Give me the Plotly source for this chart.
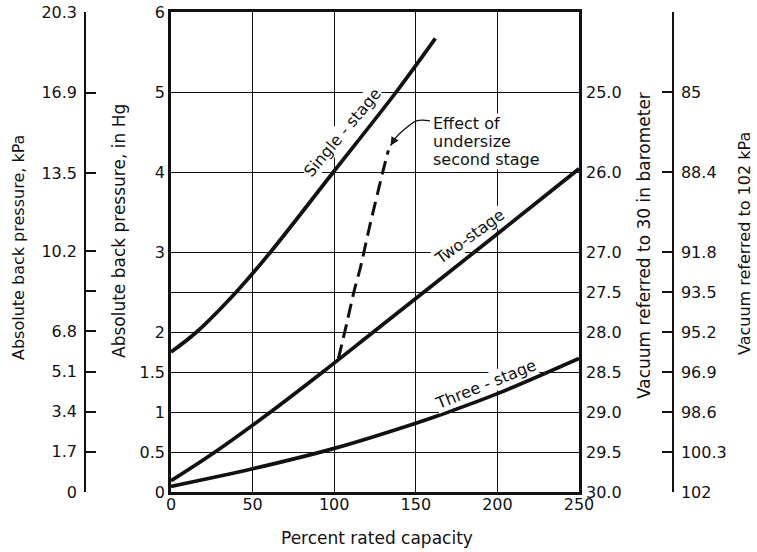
import plotly.graph_objects as go

# ---------------- data ----------------
single_x = [0, 15.7, 40, 61, 99.5, 138, 162]
single_y = [1.75, 2.0, 2.5, 3.0, 4.0, 5.0, 5.67]

two_x = [0, 27, 61, 93, 124, 155, 186, 250]
two_y = [0.14, 0.5, 1.0, 1.5, 2.0, 2.5, 3.0, 4.04]

three_x = [0, 50, 100, 150, 170, 200, 250]
three_y = [0.07, 0.29, 0.545, 0.86, 1.0, 1.23, 1.67]

undersize_x = [102.6, 107.6, 112.3, 116, 121.5, 130, 133.2]
undersize_y = [1.67, 2.1, 2.52, 2.8, 3.3, 4.02, 4.27]

arrow_x = [158.7, 150.6, 143.4, 137.3]
arrow_y = [4.64, 4.64, 4.54, 4.42]
arrow_tip = (134.6, 4.33)

x_ticks = [0, 50, 100, 150, 200, 250]
inhg_ticks = [0, 0.5, 1, 1.5, 2, 2.5, 3, 4, 5, 6]
inhg_labels = ["0", "0.5", "1", "1.5", "2", "", "3", "4", "5", "6"]
kpa_ticks = [0, 1.7, 3.4, 5.1, 6.8, 8.5, 10.2, 13.5, 16.9, 20.3]
kpa_labels = ["0", "1.7", "3.4", "5.1", "6.8", "", "10.2", "13.5", "16.9", "20.3"]
vac_in_ticks = [25, 26, 27, 27.5, 28, 28.5, 29, 29.5, 30]
vac_in_labels = ["25.0", "26.0", "27.0", "27.5", "28.0", "28.5", "29.0", "29.5", "30.0"]
vac_kpa_ticks = [81.6, 85, 88.4, 91.8, 93.5, 95.2, 96.9, 98.6, 100.3, 102]
vac_kpa_labels = ["", "85", "88.4", "91.8", "93.5", "95.2", "96.9", "98.6", "100.3", "102"]

# ---------------- layout helpers (page pixels) ----------------
W, H = 757, 552
OFF = 0                      # body margin removed by post_script
FW, FH = W - OFF, H - OFF    # figure size
ML, MR = 0, 0
PLOT_TOP, PLOT_BOT = 12, 492
MT = PLOT_TOP - OFF
MB = FH - (PLOT_BOT - OFF)
PW = FW - ML - MR
PH = PLOT_BOT - PLOT_TOP


def px_x(p):
    return (p - OFF - ML) / PW


def px_y(p):
    return (PLOT_BOT - p) / PH


FONT = "DejaVu Sans"
INK = "#111111"

fig = go.Figure()

line_style = dict(color=INK, width=3.7, shape="spline", smoothing=1.0)
for xs, ys in [(single_x, single_y), (two_x, two_y), (three_x, three_y)]:
    fig.add_trace(go.Scatter(x=xs, y=ys, mode="lines", line=line_style,
                             showlegend=False, hoverinfo="skip"))
fig.add_trace(go.Scatter(x=undersize_x, y=undersize_y, mode="lines",
                         line=dict(color=INK, width=3, dash="14px,7px", shape="spline", smoothing=0.8),
                         showlegend=False, hoverinfo="skip"))
fig.add_trace(go.Scatter(x=arrow_x + [arrow_tip[0]], y=arrow_y + [arrow_tip[1]], mode="lines",
                         line=dict(color=INK, width=1.3, shape="spline"),
                         showlegend=False, hoverinfo="skip"))

# invisible traces so the secondary axes are drawn
for ax_name, yv in [("y2", 0), ("y3", 30), ("y4", 102)]:
    fig.add_trace(go.Scatter(x=[0], y=[yv], yaxis=ax_name, mode="markers",
                             marker=dict(size=1, opacity=0), showlegend=False, hoverinfo="skip"))

tick_font = dict(family=FONT, size=16, color=INK)

fig.update_layout(
    width=FW, height=FH,
    margin=dict(l=ML, r=MR, t=MT, b=MB, pad=0),
    paper_bgcolor="white", plot_bgcolor="white",
    font=dict(family=FONT, size=16, color=INK),
    xaxis=dict(
        domain=[px_x(171), px_x(579)], range=[0, 250],
        tickvals=x_ticks, ticktext=[str(v) for v in x_ticks],
        showgrid=True, gridcolor=INK, gridwidth=1,
        showline=True, linecolor=INK, linewidth=2.5, mirror=True,
        zeroline=False, ticks="", tickfont=tick_font, automargin=False,
        ticklabelstandoff=-4, ticklabeloverflow="allow",
    ),
    yaxis=dict(
        range=[0, 6], tickvals=inhg_ticks, ticktext=inhg_labels,
        showgrid=True, gridcolor=INK, gridwidth=1,
        showline=True, linecolor=INK, linewidth=2.5, mirror=True,
        zeroline=False, ticks="", tickfont=tick_font, automargin=False,
        ticklabelstandoff=0, ticklabeloverflow="allow",
    ),
    yaxis2=dict(
        overlaying="y", anchor="free", position=px_x(85), side="left",
        range=[0, 20.32], tickvals=kpa_ticks, ticktext=kpa_labels,
        showgrid=False, zeroline=False,
        showline=True, linecolor=INK, linewidth=1.5,
        ticks="inside", ticklen=10, tickwidth=1.5, tickcolor=INK,
        tickfont=tick_font, automargin=False, ticklabelstandoff=4,
        ticklabeloverflow="allow",
    ),
    yaxis3=dict(
        overlaying="y", anchor="x", side="right",
        range=[30, 24], tickvals=vac_in_ticks, ticktext=vac_in_labels,
        showgrid=False, zeroline=False, showline=False, ticks="",
        tickfont=tick_font, automargin=False, ticklabelstandoff=6,
        ticklabeloverflow="allow",
    ),
    yaxis4=dict(
        overlaying="y", anchor="free", position=px_x(673), side="right",
        range=[102, 81.6], tickvals=vac_kpa_ticks, ticktext=vac_kpa_labels,
        showgrid=False, zeroline=False,
        showline=True, linecolor=INK, linewidth=1.5,
        ticks="inside", ticklen=10, tickwidth=1.5, tickcolor=INK,
        tickfont=tick_font, automargin=False, ticklabelstandoff=4,
        ticklabeloverflow="allow",
    ),
)

# axis titles as annotations
titles = [
    ("Absolute back pressure, kPa", px_x(18), px_y(248), 16),
    ("Absolute back pressure, in Hg", px_x(119), px_y(231), 17),
    ("Vacuum referred to 30 in barometer", px_x(644), px_y(246), 17),
    ("Vacuum referred to 102 kPa", px_x(745), px_y(244), 16),
]
for txt, xp, yp, fs in titles:
    fig.add_annotation(text=txt, x=xp, y=yp, xref="paper", yref="paper",
                       textangle=-90, showarrow=False, xanchor="center", yanchor="middle",
                       font=dict(family=FONT, size=fs, color=INK))

fig.add_annotation(text="Percent rated capacity", x=px_x(377), y=px_y(538), xref="paper", yref="paper",
                   showarrow=False, xanchor="center", yanchor="middle",
                   font=dict(family=FONT, size=17, color=INK))

# curve labels
curve_labels = [
    ("Single - stage", 105.1, 4.49, -50),
    ("Two-stage", 183.2, 3.19, -36),
    ("Three - stage", 192.4, 1.35, -22),
]
for txt, xv, yv, ang in curve_labels:
    fig.add_annotation(text=txt, x=xv, y=yv, xref="x", yref="y", textangle=ang,
                       showarrow=False, bgcolor="white", borderpad=0,
                       font=dict(family=FONT, size=16, color=INK))

# "Effect of undersize second stage" note
note_lines = [("Effect of", 4.61), ("undersize", 4.38), ("second stage", 4.16)]
for txt, yv in note_lines:
    fig.add_annotation(text=txt, x=159.7, y=yv, xref="x", yref="y", xanchor="left",
                       showarrow=False, bgcolor="white", borderpad=0,
                       font=dict(family=FONT, size=16, color=INK))

fig.add_annotation(x=arrow_tip[0], y=arrow_tip[1], ax=arrow_x[-1], ay=arrow_y[-1],
                   xref="x", yref="y", axref="x", ayref="y", text="",
                   showarrow=True, arrowhead=2, arrowsize=1.3, arrowwidth=1.3, arrowcolor=INK)

fig.write_html("out.html", config={"displayModeBar": False},
               post_script="document.body.style.margin='0px';")
